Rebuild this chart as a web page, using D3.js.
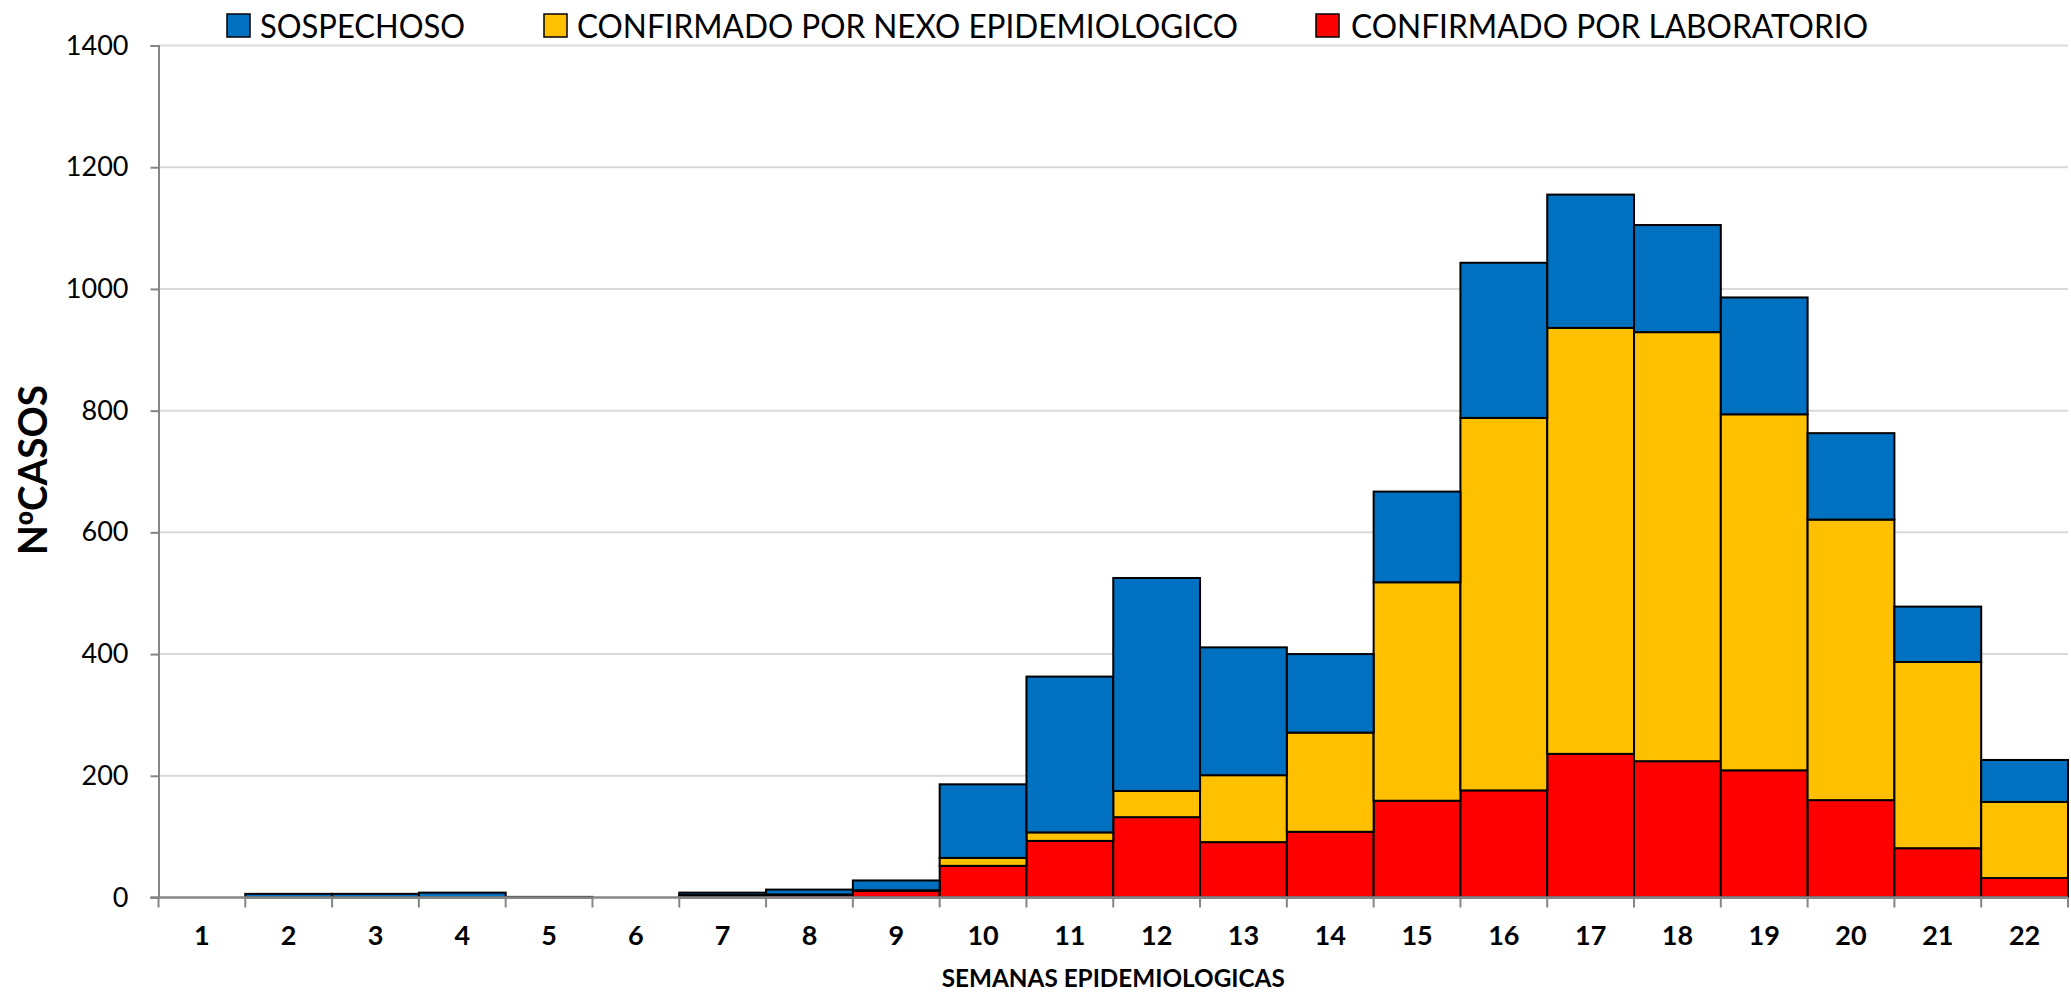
<!DOCTYPE html>
<html>
<head>
<meta charset="utf-8">
<script src="https://cdn.jsdelivr.net/npm/d3@7/dist/d3.min.js"></script>
<style>
  html, body { margin: 0; padding: 0; background: #fff; }
  svg { display: block; }
  text { font-family: Lato, "Liberation Sans", sans-serif; fill: #000; }
</style>
</head>
<body>
<svg id="chart" width="2071" height="995"></svg>
<script>
// Epidemiological weeks
const weeks = ["1","2","3","4","5","6","7","8","9","10","11","12","13","14","15","16","17","18","19","20","21","22"];

// Cases per week by classification
const laboratorio = [0, 0, 0, 0, 0, 0, 2, 4, 11, 52, 93, 132, 91, 108, 159, 176, 236, 224, 209, 160, 81, 32];
const nexo        = [0, 0, 0, 0, 0, 0, 2, 1, 1, 13, 14, 43, 110, 163, 359, 612, 700, 705, 585, 461, 306, 125];
const sospechoso  = [0, 6, 6, 8, 1, 0, 4, 8, 16, 121, 256, 350, 210, 129, 149, 255, 219, 176, 192, 142, 91, 69];

const yTicks = [0, 200, 400, 600, 800, 1000, 1200, 1400];

const seriesKeys   = ["laboratorio", "nexo", "sospechoso"];
const seriesColors = { sospechoso: "#0070C0", nexo: "#FFC000", laboratorio: "#FF0000" };
const legendItems = [
  { key: "sospechoso",  label: "SOSPECHOSO" },
  { key: "nexo",        label: "CONFIRMADO POR NEXO EPIDEMIOLOGICO" },
  { key: "laboratorio", label: "CONFIRMADO POR LABORATORIO" }
];

const rows = weeks.map((w, i) => ({
  week: w,
  laboratorio: laboratorio[i],
  nexo: nexo[i],
  sospechoso: sospechoso[i]
}));

const svg = d3.select("#chart");
const plot = { left: 158.5, right: 2068, top: 45.5, bottom: 897.5 };

const x = d3.scaleBand().domain(weeks).range([plot.left, plot.right]).paddingInner(0).paddingOuter(0);
const y = d3.scaleLinear().domain([0, 1400]).range([plot.bottom, plot.top]);

// Horizontal gridlines
svg.append("g")
  .selectAll("line")
  .data(yTicks.filter(d => d > 0))
  .join("line")
  .attr("x1", plot.left).attr("x2", plot.right)
  .attr("y1", d => y(d)).attr("y2", d => y(d))
  .attr("stroke", "#d9d9d9").attr("stroke-width", 2);

// Stacked bars
const stacked = d3.stack().keys(seriesKeys)(rows);
svg.append("g")
  .selectAll("g")
  .data(stacked)
  .join("g")
  .attr("fill", d => seriesColors[d.key])
  .selectAll("rect")
  .data(d => d.filter(s => s[1] - s[0] > 0))
  .join("rect")
  .attr("x", d => x(d.data.week))
  .attr("width", x.bandwidth())
  .attr("y", d => y(d[1]))
  .attr("height", d => y(d[0]) - y(d[1]))
  .attr("stroke", "#000")
  .attr("stroke-width", 2);

// Y axis
const yAxis = svg.append("g")
  .attr("transform", `translate(${plot.left},0)`)
  .call(d3.axisLeft(y).tickValues(yTicks).tickSize(8).tickPadding(22).tickFormat(d3.format("d")));
yAxis.select(".domain").attr("stroke", "#868686").attr("stroke-width", 2);
yAxis.selectAll(".tick line").attr("stroke", "#868686").attr("stroke-width", 2);
yAxis.selectAll(".tick text")
  .style("font-family", "Lato, sans-serif")
  .style("font-size", "27px")
  .attr("fill", "#000");

// X axis: ticks sit on category boundaries
const xAxis = svg.append("g")
  .attr("transform", `translate(0,${plot.bottom})`)
  .call(d3.axisBottom(x).tickSize(0).tickPadding(28));
xAxis.select(".domain").remove();
xAxis.selectAll(".tick text")
  .style("font-family", "Lato, sans-serif")
  .style("font-size", "27px")
  .style("font-weight", "bold")
  .attr("fill", "#000");

svg.append("line")
  .attr("x1", plot.left - 8).attr("x2", plot.right)
  .attr("y1", plot.bottom).attr("y2", plot.bottom)
  .attr("stroke", "#868686").attr("stroke-width", 2.5);

const boundaries = weeks.map(w => x(w)).concat([plot.right]);
svg.append("g")
  .selectAll("line")
  .data(boundaries)
  .join("line")
  .attr("x1", d => d).attr("x2", d => d)
  .attr("y1", plot.bottom).attr("y2", plot.bottom + 10)
  .attr("stroke", "#868686").attr("stroke-width", 2);

// Axis titles
svg.append("text")
  .attr("x", (plot.left + plot.right) / 2)
  .attr("y", 987)
  .attr("text-anchor", "middle")
  .style("font-size", "25px")
  .style("font-weight", "bold")
  .attr("textLength", 343)
  .attr("lengthAdjust", "spacingAndGlyphs")
  .text("SEMANAS EPIDEMIOLOGICAS");

const yTitle = svg.append("text")
  .attr("transform", "translate(47,470) rotate(-90)")
  .attr("text-anchor", "middle")
  .style("font-size", "40px")
  .style("font-weight", "bold")
  .attr("textLength", 170)
  .attr("lengthAdjust", "spacingAndGlyphs");
yTitle.append("tspan").text("N");
yTitle.append("tspan").style("font-family", "'Liberation Sans', sans-serif").text("º");
yTitle.append("tspan").text("CASOS");

// Legend
const legendPos = [
  { box: 227, text: 260, width: 205 },
  { box: 544, text: 577, width: 661 },
  { box: 1316, text: 1351, width: 517 }
];
const legend = svg.append("g");
legendItems.forEach((item, i) => {
  const p = legendPos[i];
  legend.append("rect")
    .attr("x", p.box).attr("y", 14)
    .attr("width", 23).attr("height", 23)
    .attr("fill", seriesColors[item.key])
    .attr("stroke", "#000").attr("stroke-width", 1.5);
  legend.append("text")
    .attr("x", p.text).attr("y", 38)
    .style("font-size", "32px")
    .attr("textLength", p.width)
    .attr("lengthAdjust", "spacingAndGlyphs")
    .text(item.label);
});
</script>
</body>
</html>
